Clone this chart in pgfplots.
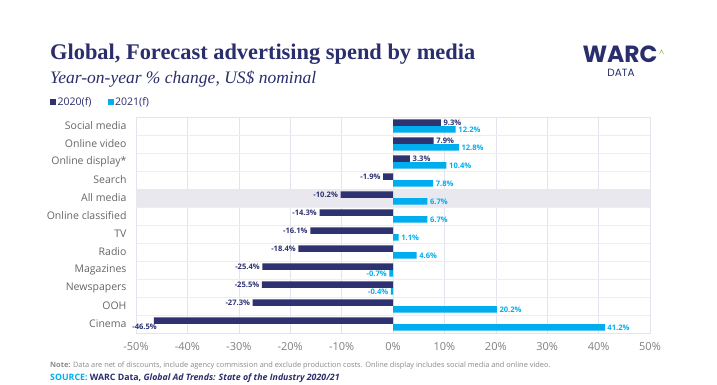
\documentclass[border=0pt]{standalone}
\usepackage{fontspec}
\setmainfont{Open Sans}
\newfontfamily\serif{Liberation Serif}
\newfontfamily\logofont{Poppins}
\usepackage{pgfplots}
\pgfplotsset{compat=1.18}
\definecolor{navy}{HTML}{2E3271}
\definecolor{sky}{HTML}{00AEEF}
\definecolor{titlec}{HTML}{2B2E6C}
\definecolor{gridc}{HTML}{E4E4EE}
\definecolor{band}{HTML}{E8E8EE}
\definecolor{labelc}{HTML}{666666}
\definecolor{tickc}{HTML}{808080}
\definecolor{notec}{HTML}{8A8A8A}
\definecolor{greenc}{HTML}{8BC34A}

% y: row, a: 2020(f), b: 2021(f), dx/dy: label offsets for 2020(f)
\pgfplotstableread{
y a b dx dy
0 9.3 12.2 0 0
1 7.9 12.8 0 0
2 3.3 10.4 0 0
3 -1.9 7.8 0 0
4 -10.2 6.7 0 0
5 -14.3 6.7 0 0
6 -16.1 1.1 0 0
7 -18.4 4.6 0 0
8 -25.4 -0.7 0 0
9 -25.5 -0.4 0 0
10 -27.3 20.2 0 0
11 -46.5 41.2 5.5 -6.5
}\data

\begin{document}
\begin{tikzpicture}[x=1pt,y=1pt]
\fill[white] (0,0) rectangle (717,385);
\useasboundingbox (0,0) rectangle (717,385);
% title
\node[anchor=base west, inner sep=0, text=titlec] at (50,325) {\resizebox{425pt}{!}{\serif\bfseries Global, Forecast advertising spend by media}};
\node[anchor=base west, inner sep=0, text=titlec] at (50,301) {\resizebox{266pt}{!}{\serif\itshape Year-on-year \% change, US\$ nominal}};
% legend
\fill[navy] (50,280) rectangle (56,286);
\node[anchor=base west, inner sep=0, text=titlec, font=\fontsize{10.5}{11}\selectfont] at (57.5,279) {2020(f)};
\fill[sky] (107.5,280) rectangle (113.5,286);
\node[anchor=base west, inner sep=0, text=titlec, font=\fontsize{10.5}{11}\selectfont] at (115,279) {2021(f)};
% logo
\node[anchor=base, inner sep=0, text=titlec] at (620,322) {\resizebox{75pt}{!}{\logofont\bfseries WARC}};
\node[anchor=base, inner sep=0, text=titlec, font=\logofont\fontsize{10.5}{11}\selectfont] at (621,308) {DATA};
\draw[greenc, line width=0.6pt] (659.5,331) -- (661.5,335) -- (663.5,331);

\begin{axis}[
  at={(136pt,52pt)}, anchor=south west,
  scale only axis, width=514pt, height=216pt,
  xmin=-50, xmax=50, ymin=-0.5, ymax=11.5,
  y dir=reverse,
  xbar, bar width=6.6pt,
  axis line style={draw=gridc},
  xtick={-50,-40,...,50},
  xticklabels={-50\%,-40\%,-30\%,-20\%,-10\%,0\%,10\%,20\%,30\%,40\%,50\%},
  ytick={0,...,11},
  yticklabels={Social media,Online video,Online display*,Search,All media,Online classified,TV,Radio,Magazines,Newspapers,OOH,Cinema},
  minor ytick={0.5,1.5,...,10.5},
  xmajorgrids, yminorgrids,
  major grid style={draw=gridc, line width=0.6pt},
  minor grid style={draw=gridc!70, line width=0.6pt},
  major tick length=0pt, minor tick length=0pt,
  yticklabel style={text=labelc, font=\fontsize{10.5}{11}\selectfont, xshift=-6pt},
  xticklabel style={text=tickc, font=\fontsize{11}{12}\selectfont, yshift=-6pt},
  /pgf/number format/assume math mode=true,
  nodes near coords={\pgfmathprintnumber[fixed,precision=1,fixed zerofill]{\pgfplotspointmeta}\%},
  nodes near coords align={horizontal},
  every node near coord/.append style={font=\bfseries\fontsize{7.6}{8}\selectfont, inner sep=2.5pt},
]
\fill[band] (axis cs:-50,3.5) rectangle (axis cs:50,4.5);
\addplot[fill=navy, draw=none, bar shift=3.4pt,
  visualization depends on={\thisrow{dx} \as \dx},
  visualization depends on={\thisrow{dy} \as \dy},
  every node near coord/.append style={text=navy, xshift=\dx pt, yshift=\dy pt}]
  table[x=a,y=y]{\data};
\addplot[fill=sky, draw=none, bar shift=-3.4pt,
  every node near coord/.append style={text=sky}]
  table[x=b,y=y]{\data};
\end{axis}
% note & source
\node[anchor=base west, inner sep=0, text=notec, font=\fontsize{7.4}{8}\selectfont] at (50,17) {\textbf{Note:} Data are net of discounts, include agency commission and exclude production costs. Online display includes social media and online video.};
\node[anchor=base west, inner sep=0, font=\bfseries\fontsize{8.8}{9}\selectfont] at (50,4) {\textcolor{sky}{SOURCE:} \textcolor{titlec}{WARC Data, \itshape Global Ad Trends: State of the Industry 2020/21}};
\end{tikzpicture}
\end{document}
